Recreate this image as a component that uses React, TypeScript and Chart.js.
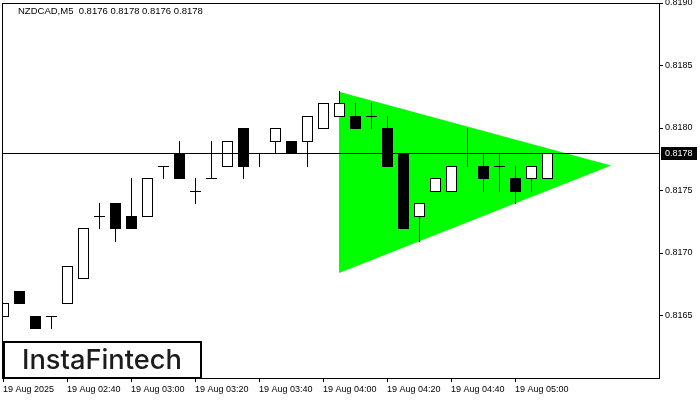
import { useEffect, useRef } from 'react';
import { Chart, registerables } from 'chart.js';

Chart.register(...registerables);

const chartTitle = 'NZDCAD,M5  0.8176 0.8178 0.8176 0.8178';
const brandText = 'InstaFintech';

// candles, one per 5 minutes from 19 Aug 02:20
const opens = [0.8165, 0.8167, 0.8165, 0.8165, 0.8166, 0.8168, 0.8173, 0.8174, 0.8173, 0.8173, 0.8177, 0.8178, 0.8175, 0.8176, 0.8177, 0.8180, 0.8178, 0.8179, 0.8179, 0.8179, 0.8180, 0.8181, 0.8181, 0.8181, 0.8180, 0.8178, 0.8173, 0.8175, 0.8175, 0.8178, 0.8177, 0.8177, 0.8176, 0.8176, 0.8176];
const highs = [0.8166, 0.8167, 0.8165, 0.8165, 0.8169, 0.8172, 0.8174, 0.8174, 0.8176, 0.8176, 0.8177, 0.8179, 0.8176, 0.8179, 0.8179, 0.8180, 0.8178, 0.8180, 0.8179, 0.8181, 0.8182, 0.8183, 0.8182, 0.8182, 0.8181, 0.8178, 0.8174, 0.8176, 0.8177, 0.8180, 0.8178, 0.8178, 0.8177, 0.8177, 0.8178];
const lows = [0.8165, 0.8166, 0.8164, 0.8164, 0.8166, 0.8168, 0.8172, 0.8171, 0.8172, 0.8173, 0.8176, 0.8176, 0.8174, 0.8176, 0.8177, 0.8176, 0.8177, 0.8178, 0.8178, 0.8177, 0.8180, 0.8181, 0.8180, 0.8180, 0.8177, 0.8172, 0.8171, 0.8175, 0.8175, 0.8177, 0.8175, 0.8175, 0.8174, 0.8175, 0.8176];
const closes = [0.8166, 0.8166, 0.8164, 0.8165, 0.8169, 0.8172, 0.8173, 0.8172, 0.8172, 0.8176, 0.8177, 0.8176, 0.8175, 0.8176, 0.8179, 0.8177, 0.8178, 0.8180, 0.8178, 0.8181, 0.8182, 0.8182, 0.8180, 0.8181, 0.8177, 0.8172, 0.8174, 0.8176, 0.8177, 0.8178, 0.8176, 0.8177, 0.8175, 0.8177, 0.8178];

const xTickIndex = [0, 4, 8, 12, 16, 20, 24, 28, 32];
const xTickLabels = ['19 Aug 2025', '19 Aug 02:40', '19 Aug 03:00', '19 Aug 03:20', '19 Aug 03:40', '19 Aug 04:00', '19 Aug 04:20', '19 Aug 04:40', '19 Aug 05:00'];
const yTickValues = [0.8165, 0.817, 0.8175, 0.818, 0.8185, 0.819];
const currentPrice = 0.8178;

// bullish symmetrical triangle pattern
const triangleUpper = [{ x: 21, y: 0.81829 }, { x: 38, y: 0.8177 }];
const triangleLower = [{ x: 21, y: 0.81684 }, { x: 38, y: 0.8177 }];

const FONT = '"Liberation Sans", Arial, sans-serif';

const candlePlugin = {
  id: 'candles',
  afterDatasetsDraw(chart: any) {
    const { ctx, chartArea, scales } = chart;
    const xs = scales.x;
    const ys = scales.y;
    const py = (v: number) => Math.round(ys.getPixelForValue(v) + 1e-6);
    ctx.save();
    ctx.beginPath();
    ctx.rect(chartArea.left, chartArea.top, chartArea.right - chartArea.left, chartArea.bottom - chartArea.top);
    ctx.clip();
    for (let i = 0; i < opens.length; i++) {
      const cx = Math.round(xs.getPixelForValue(i));
      const o = opens[i], h = highs[i], l = lows[i], c = closes[i];
      const yh = py(h), yl = py(l), yo = py(o), yc = py(c);
      ctx.fillStyle = '#000';
      ctx.fillRect(cx, yh, 1, yl - yh + 1);
      const top = Math.min(yo, yc), bot = Math.max(yo, yc);
      if (top === bot) {
        ctx.fillRect(cx - 5, top, 11, 1);
      } else if (c > o) {
        ctx.fillStyle = '#fff';
        ctx.fillRect(cx - 5, top, 11, bot - top + 1);
        ctx.strokeStyle = '#000';
        ctx.lineWidth = 1;
        ctx.strokeRect(cx - 4.5, top + 0.5, 10, bot - top);
      } else {
        ctx.fillStyle = '#000';
        ctx.fillRect(cx - 5, top, 11, bot - top + 1);
      }
    }
    // current price line
    const yp = py(currentPrice);
    ctx.fillStyle = '#000';
    ctx.fillRect(chartArea.left, yp, chartArea.right - chartArea.left, 1);
    ctx.restore();
  },
  afterDraw(chart: any) {
    const { ctx, chartArea, scales } = chart;
    const ys = scales.y;
    ctx.save();
    // plot frame
    ctx.strokeStyle = '#000';
    ctx.lineWidth = 1;
    ctx.strokeRect(chartArea.left + 0.5, chartArea.top + 0.5, chartArea.right - chartArea.left - 1, chartArea.bottom - chartArea.top);
    // title
    ctx.fillStyle = '#000';
    ctx.font = `9.5px ${FONT}`;
    ctx.textBaseline = 'alphabetic';
    ctx.textAlign = 'left';
    ctx.fillText(chartTitle, 18, 14);
    // current price label
    const yp = Math.round(ys.getPixelForValue(currentPrice) + 1e-6);
    ctx.fillStyle = '#000';
    ctx.fillRect(chartArea.right + 1, yp - 6, 36, 13);
    ctx.fillStyle = '#fff';
    ctx.font = `9px ${FONT}`;
    ctx.textBaseline = 'middle';
    ctx.fillText(currentPrice.toFixed(4), chartArea.right + 5, yp + 0.5);
    // brand box
    ctx.fillStyle = '#fff';
    ctx.fillRect(3, 341, 199, 38);
    ctx.strokeStyle = '#000';
    ctx.lineWidth = 2;
    ctx.strokeRect(4, 342, 197, 36);
    ctx.fillStyle = '#1c1c1c';
    ctx.font = `500 28px Inter, "Noto Sans", sans-serif`;
    const w = ctx.measureText(brandText).width;
    const size = (28 * 160) / w;
    ctx.font = `500 ${size.toFixed(2)}px Inter, "Noto Sans", sans-serif`;
    ctx.textBaseline = 'alphabetic';
    ctx.fillText(brandText, 22, 369);
    ctx.restore();
  },
};

export default function App() {
  const ref = useRef<HTMLCanvasElement | null>(null);
  useEffect(() => {
    if (!ref.current) return;
    const chart = new Chart(ref.current, {
      type: 'line',
      data: {
        datasets: [
          {
            data: triangleUpper,
            borderColor: 'rgba(0,0,0,0)',
            backgroundColor: '#00ff00',
            pointRadius: 0,
            borderWidth: 0,
            fill: false,
            tension: 0,
          },
          {
            data: triangleLower,
            borderColor: 'rgba(0,0,0,0)',
            backgroundColor: '#00ff00',
            pointRadius: 0,
            borderWidth: 0,
            fill: '-1',
            tension: 0,
          },
        ],
      },
      options: {
        responsive: false,
        animation: false,
        devicePixelRatio: 1,
        layout: { padding: { left: 2, top: 3, right: 0, bottom: 0 } },
        plugins: { legend: { display: false }, tooltip: { enabled: false } },
        events: [],
        scales: {
          x: {
            type: 'linear',
            min: -0.0625,
            max: 41.0625,
            position: 'bottom',
            afterBuildTicks: (scale: any) => {
              scale.ticks = xTickIndex.map((v) => ({ value: v }));
            },
            afterFit: (scale: any) => {
              scale.height = 22;
              scale.paddingLeft = 0;
              scale.paddingRight = 0;
              scale.paddingTop = 0;
              scale.paddingBottom = 0;
            },
            grid: { display: true, drawOnChartArea: false, drawTicks: true, tickLength: 4, color: '#000', lineWidth: 1 },
            border: { display: false },
            ticks: {
              autoSkip: false,
              maxRotation: 0,
              minRotation: 0,
              align: 'start',
              padding: 2,
              color: '#000',
              font: { family: FONT, size: 9 },
              callback: (value: any) => {
                const i = xTickIndex.indexOf(Number(value));
                return i >= 0 ? xTickLabels[i] : '';
              },
            },
          },
          y: {
            type: 'linear',
            position: 'right',
            min: 0.816,
            max: 0.819,
            afterBuildTicks: (scale: any) => {
              scale.ticks = yTickValues.map((v) => ({ value: v }));
            },
            afterFit: (scale: any) => {
              scale.width = 40;
              scale.paddingLeft = 0;
              scale.paddingRight = 0;
              scale.paddingTop = 0;
              scale.paddingBottom = 0;
            },
            grid: { display: true, drawOnChartArea: false, drawTicks: true, tickLength: 3, color: '#000', lineWidth: 1 },
            border: { display: false },
            ticks: {
              padding: 2,
              color: '#000',
              font: { family: FONT, size: 9 },
              callback: (value: any) => Number(value).toFixed(4),
            },
          },
        },
      } as any,
      plugins: [candlePlugin],
    });
    return () => chart.destroy();
  }, []);
  return (
    <div style={{ position: 'fixed', left: 0, top: 0, width: 700, height: 400, background: '#fff' }}>
      <canvas ref={ref} width={700} height={400} style={{ display: 'block' }} />
    </div>
  );
}
